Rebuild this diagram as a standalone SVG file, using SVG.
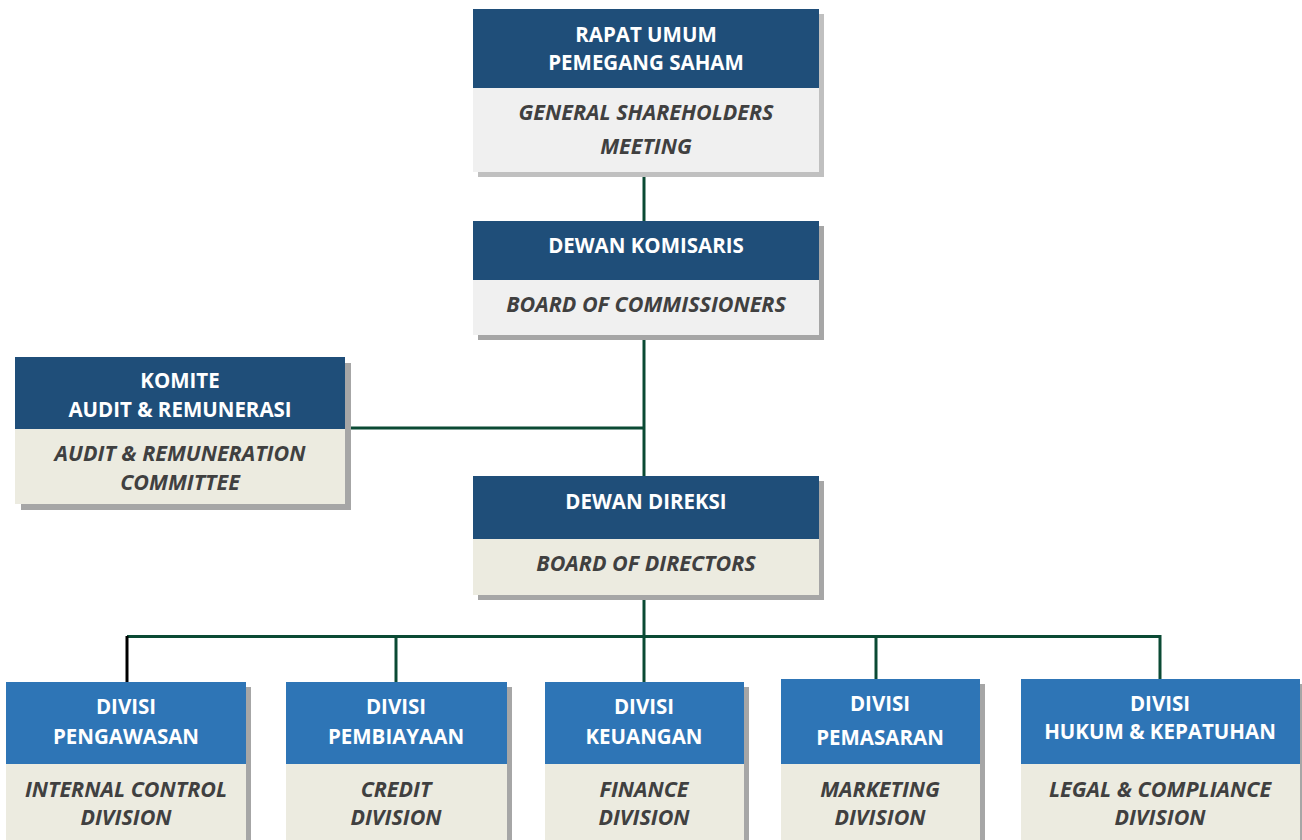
<svg xmlns="http://www.w3.org/2000/svg" width="1302" height="840" viewBox="0 0 1302 840">
<style>
.hd{fill:#1f4e79}
.hd2{fill:#2e75b6}
.bl{fill:#f0f0f0}
.bb{fill:#ecebe0}
.sh{fill:#a6a6a6}
.sh1{fill:#c0c0c0}
.t{font-family:"Open Sans","Liberation Sans",sans-serif;font-weight:bold;font-size:20.5px;fill:#ffffff;text-anchor:middle}
.i{font-family:"Open Sans","Liberation Sans",sans-serif;font-weight:bold;font-style:italic;font-size:21.5px;fill:#404040;text-anchor:middle}
.c{stroke:#0b4a34;stroke-width:3;fill:none}
</style>
<rect width="1302" height="840" fill="#ffffff"/>
<g id="connectors">
<line class="c" x1="644" y1="172" x2="644" y2="221"/>
<line class="c" x1="644" y1="335" x2="644" y2="476"/>
<line class="c" x1="345" y1="428" x2="644" y2="428"/>
<line class="c" x1="644" y1="595" x2="644" y2="682"/>
<polyline class="c" points="1160,679 1160,636.5 127,636.5"/>
<line x1="127" y1="636" x2="127" y2="682" stroke="#000000" stroke-width="3"/>
<line class="c" x1="396" y1="636" x2="396" y2="682"/>
<line class="c" x1="876" y1="636" x2="876" y2="679"/>
</g>
<g id="rups">
<rect class="sh1" x="478" y="14" width="346" height="163"/>
<rect class="hd" x="473" y="9" width="346" height="79"/>
<rect class="bl" x="473" y="88" width="346" height="84"/>
<text class="t" x="646" y="42">RAPAT UMUM</text>
<text class="t" x="646" y="70">PEMEGANG SAHAM</text>
<text class="i" x="646" y="120">GENERAL SHAREHOLDERS</text>
<text class="i" x="646" y="154">MEETING</text>
</g>
<g id="dewan-komisaris">
<rect class="sh" x="478" y="226" width="346" height="114"/>
<rect class="hd" x="473" y="221" width="346" height="59"/>
<rect class="bl" x="473" y="280" width="346" height="55"/>
<text class="t" x="646" y="253">DEWAN KOMISARIS</text>
<text class="i" x="646" y="312">BOARD OF COMMISSIONERS</text>
</g>
<g id="komite">
<rect class="sh" x="21" y="363" width="330" height="147"/>
<rect class="hd" x="15" y="357" width="330" height="72"/>
<rect class="bb" x="15" y="429" width="330" height="75"/>
<text class="t" x="180" y="388">KOMITE</text>
<text class="t" x="180" y="417">AUDIT &amp; REMUNERASI</text>
<text class="i" x="180" y="461">AUDIT &amp; REMUNERATION</text>
<text class="i" x="180" y="490">COMMITTEE</text>
</g>
<g id="dewan-direksi">
<rect class="sh" x="478" y="481" width="346" height="119"/>
<rect class="hd" x="473" y="476" width="346" height="63"/>
<rect class="bb" x="473" y="539" width="346" height="56"/>
<text class="t" x="646" y="509">DEWAN DIREKSI</text>
<text class="i" x="646" y="571">BOARD OF DIRECTORS</text>
</g>
<g id="div-pengawasan">
<rect class="sh" x="11" y="687" width="240" height="160"/>
<rect class="hd2" x="6" y="682" width="240" height="82"/>
<rect class="bb" x="6" y="764" width="240" height="80"/>
<text class="t" x="126" y="714">DIVISI</text>
<text class="t" x="126" y="744">PENGAWASAN</text>
<text class="i" x="126" y="797">INTERNAL CONTROL</text>
<text class="i" x="126" y="825">DIVISION</text>
</g>
<g id="div-pembiayaan">
<rect class="sh" x="291" y="687" width="221" height="160"/>
<rect class="hd2" x="286" y="682" width="221" height="82"/>
<rect class="bb" x="286" y="764" width="221" height="80"/>
<text class="t" x="396" y="714">DIVISI</text>
<text class="t" x="396" y="744">PEMBIAYAAN</text>
<text class="i" x="396" y="797">CREDIT</text>
<text class="i" x="396" y="825">DIVISION</text>
</g>
<g id="div-keuangan">
<rect class="sh" x="550" y="687" width="199" height="160"/>
<rect class="hd2" x="545" y="682" width="199" height="82"/>
<rect class="bb" x="545" y="764" width="199" height="80"/>
<text class="t" x="644" y="714">DIVISI</text>
<text class="t" x="644" y="744">KEUANGAN</text>
<text class="i" x="644" y="797">FINANCE</text>
<text class="i" x="644" y="825">DIVISION</text>
</g>
<g id="div-pemasaran">
<rect class="sh" x="786" y="684" width="199" height="160"/>
<rect class="hd2" x="781" y="679" width="199" height="85"/>
<rect class="bb" x="781" y="764" width="199" height="80"/>
<text class="t" x="880" y="711">DIVISI</text>
<text class="t" x="880" y="745">PEMASARAN</text>
<text class="i" x="880" y="797">MARKETING</text>
<text class="i" x="880" y="825">DIVISION</text>
</g>
<g id="div-hukum">
<rect class="sh" x="1026" y="684" width="279" height="160"/>
<rect class="hd2" x="1021" y="679" width="279" height="85"/>
<rect class="bb" x="1021" y="764" width="279" height="80"/>
<text class="t" x="1160" y="711">DIVISI</text>
<text class="t" x="1160" y="739">HUKUM &amp; KEPATUHAN</text>
<text class="i" x="1160" y="797">LEGAL &amp; COMPLIANCE</text>
<text class="i" x="1160" y="825">DIVISION</text>
</g>
</svg>
